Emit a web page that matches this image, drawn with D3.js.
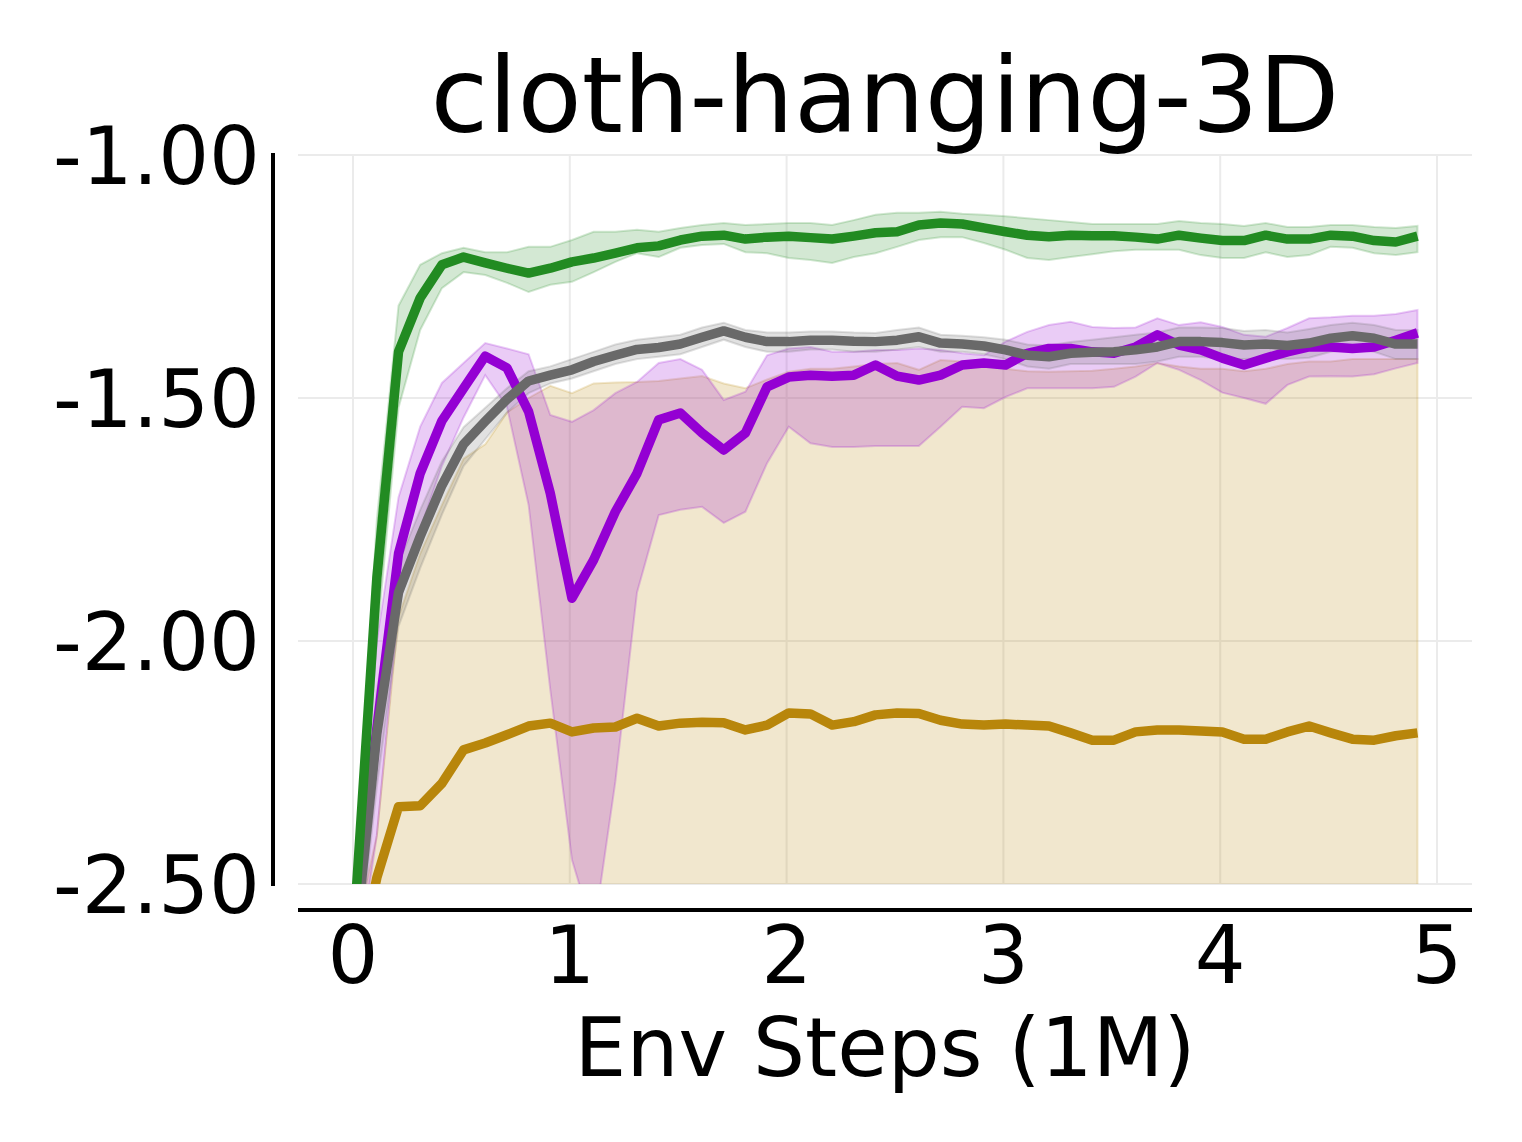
<!DOCTYPE html>
<html>
<head>
<meta charset="utf-8">
<script src="https://cdn.jsdelivr.net/npm/d3@7/dist/d3.min.js"></script>
<style>
  body { margin: 0; background: #fff; }
  svg text { font-family: "DejaVu Sans", sans-serif; fill: #000; }
</style>
</head>
<body>
<svg id="chart" width="1522" height="1142"></svg>
<script>
// env steps (millions)
var steps = [0.01, 0.11, 0.21, 0.31, 0.41, 0.51, 0.61, 0.71, 0.81, 0.91,
             1.01, 1.11, 1.21, 1.31, 1.41, 1.51, 1.61, 1.71, 1.81, 1.91,
             2.01, 2.11, 2.21, 2.31, 2.41, 2.51, 2.61, 2.71, 2.81, 2.91,
             3.01, 3.11, 3.21, 3.31, 3.41, 3.51, 3.61, 3.71, 3.81, 3.91,
             4.01, 4.11, 4.21, 4.31, 4.41, 4.51, 4.61, 4.71, 4.81, 4.91];

var greenMean = [-2.55, -1.87, -1.405, -1.294, -1.226, -1.210, -1.222, -1.233, -1.243, -1.233,
                 -1.220, -1.212, -1.202, -1.191, -1.187, -1.175, -1.167, -1.165, -1.173, -1.169,
                 -1.167, -1.170, -1.173, -1.167, -1.160, -1.158, -1.144, -1.140, -1.142, -1.150,
                 -1.158, -1.165, -1.168, -1.165, -1.166, -1.166, -1.169, -1.173, -1.165, -1.171,
                 -1.176, -1.176, -1.165, -1.173, -1.173, -1.165, -1.167, -1.176, -1.179, -1.167];
var greenHi = [-2.50, -1.75, -1.31, -1.226, -1.202, -1.191, -1.200, -1.200, -1.189, -1.189,
               -1.175, -1.158, -1.158, -1.154, -1.158, -1.150, -1.144, -1.140, -1.144, -1.142,
               -1.140, -1.140, -1.144, -1.134, -1.123, -1.119, -1.119, -1.117, -1.121, -1.123,
               -1.126, -1.130, -1.134, -1.138, -1.142, -1.142, -1.142, -1.142, -1.136, -1.140,
               -1.142, -1.146, -1.140, -1.148, -1.148, -1.144, -1.144, -1.148, -1.150, -1.146];
var greenLo = [-2.60, -2.00, -1.52, -1.360, -1.274, -1.241, -1.247, -1.263, -1.282, -1.267,
               -1.261, -1.241, -1.220, -1.202, -1.210, -1.191, -1.185, -1.183, -1.200, -1.202,
               -1.212, -1.216, -1.222, -1.210, -1.202, -1.189, -1.175, -1.169, -1.169, -1.181,
               -1.195, -1.212, -1.216, -1.210, -1.204, -1.198, -1.195, -1.195, -1.195, -1.206,
               -1.212, -1.212, -1.200, -1.210, -1.206, -1.189, -1.191, -1.202, -1.206, -1.200];

var grayMean = [-2.62, -2.19, -1.90, -1.785, -1.68, -1.595, -1.548, -1.503, -1.465, -1.453,
                -1.442, -1.425, -1.412, -1.400, -1.396, -1.389, -1.375, -1.362, -1.375, -1.384,
                -1.384, -1.381, -1.381, -1.383, -1.384, -1.381, -1.374, -1.387, -1.389, -1.393,
                -1.401, -1.412, -1.415, -1.408, -1.406, -1.405, -1.401, -1.395, -1.384, -1.384,
                -1.386, -1.391, -1.389, -1.392, -1.387, -1.377, -1.372, -1.377, -1.389, -1.389];
var grayHi = [-2.55, -2.10, -1.84, -1.73, -1.63, -1.56, -1.52, -1.48, -1.445, -1.435,
              -1.42, -1.405, -1.39, -1.38, -1.375, -1.37, -1.355, -1.345, -1.36, -1.365,
              -1.365, -1.363, -1.363, -1.365, -1.366, -1.36, -1.355, -1.37, -1.372, -1.375,
              -1.38, -1.39, -1.392, -1.385, -1.38, -1.375, -1.37, -1.365, -1.355, -1.355,
              -1.356, -1.362, -1.36, -1.365, -1.358, -1.35, -1.345, -1.35, -1.36, -1.36];
var grayLo = [-2.70, -2.30, -1.97, -1.85, -1.74, -1.64, -1.585, -1.53, -1.49, -1.47,
              -1.46, -1.445, -1.43, -1.42, -1.415, -1.41, -1.395, -1.38, -1.395, -1.405,
              -1.405, -1.40, -1.40, -1.405, -1.405, -1.40, -1.395, -1.405, -1.405, -1.41,
              -1.42, -1.435, -1.44, -1.43, -1.43, -1.43, -1.43, -1.425, -1.415, -1.415,
              -1.42, -1.42, -1.418, -1.42, -1.417, -1.405, -1.40, -1.405, -1.42, -1.42];

var purpleMean = [-2.60, -2.18, -1.82, -1.655, -1.547, -1.48, -1.414, -1.438, -1.528, -1.696,
                  -1.912, -1.833, -1.734, -1.655, -1.545, -1.531, -1.572, -1.607, -1.572, -1.477,
                  -1.457, -1.453, -1.455, -1.453, -1.432, -1.455, -1.463, -1.453, -1.432, -1.428,
                  -1.432, -1.408, -1.398, -1.398, -1.405, -1.408, -1.395, -1.370, -1.391, -1.401,
                  -1.418, -1.432, -1.418, -1.405, -1.395, -1.395, -1.398, -1.395, -1.381, -1.366];
var purpleHi = [-2.50, -2.00, -1.704, -1.559, -1.469, -1.428, -1.387, -1.398, -1.410, -1.535,
                -1.549, -1.525, -1.490, -1.467, -1.428, -1.420, -1.442, -1.504, -1.487, -1.412,
                -1.398, -1.395, -1.405, -1.405, -1.401, -1.401, -1.398, -1.401, -1.408, -1.412,
                -1.384, -1.364, -1.350, -1.343, -1.354, -1.356, -1.355, -1.336, -1.350, -1.344,
                -1.354, -1.370, -1.374, -1.356, -1.336, -1.334, -1.331, -1.331, -1.327, -1.319];
var purpleLo = [-2.70, -2.40, -1.93, -1.77, -1.64, -1.54, -1.453, -1.518, -1.72, -2.10,
                -2.45, -2.60, -2.29, -1.90, -1.741, -1.730, -1.724, -1.757, -1.734, -1.634,
                -1.559, -1.593, -1.601, -1.601, -1.599, -1.599, -1.599, -1.559, -1.518, -1.521,
                -1.498, -1.480, -1.480, -1.480, -1.480, -1.477, -1.456, -1.428, -1.442, -1.463,
                -1.489, -1.500, -1.512, -1.473, -1.456, -1.455, -1.456, -1.451, -1.439, -1.428];

var goldMean = [-2.70, -2.487, -2.341, -2.339, -2.293, -2.224, -2.210, -2.193, -2.175, -2.169,
                -2.187, -2.179, -2.177, -2.159, -2.175, -2.169, -2.167, -2.168, -2.183, -2.173,
                -2.148, -2.150, -2.173, -2.166, -2.152, -2.148, -2.149, -2.163, -2.171, -2.173,
                -2.171, -2.173, -2.175, -2.189, -2.204, -2.204, -2.187, -2.183, -2.183, -2.185,
                -2.187, -2.202, -2.202, -2.187, -2.175, -2.189, -2.202, -2.204, -2.195, -2.189];
var goldHi = [-2.60, -2.40, -1.95, -1.82, -1.72, -1.625, -1.595, -1.53, -1.50, -1.475,
              -1.49, -1.47, -1.468, -1.467, -1.465, -1.46, -1.455, -1.47, -1.48, -1.462,
              -1.446, -1.44, -1.44, -1.435, -1.43, -1.428, -1.442, -1.422, -1.425, -1.43,
              -1.44, -1.445, -1.446, -1.445, -1.444, -1.44, -1.435, -1.428, -1.435, -1.44,
              -1.44, -1.445, -1.44, -1.43, -1.425, -1.425, -1.42, -1.42, -1.42, -1.42];
var goldLo = [-2.95, -2.92, -2.90, -2.91, -2.93, -2.90, -2.88, -2.90, -2.92, -2.91,
              -2.93, -2.90, -2.89, -2.91, -2.92, -2.90, -2.91, -2.93, -2.92, -2.90,
              -2.89, -2.90, -2.92, -2.91, -2.90, -2.89, -2.91, -2.92, -2.90, -2.91,
              -2.93, -2.92, -2.90, -2.91, -2.92, -2.94, -2.91, -2.90, -2.91, -2.92,
              -2.92, -2.93, -2.92, -2.91, -2.90, -2.91, -2.92, -2.93, -2.92, -2.91];

var xTicks = [0, 1, 2, 3, 4, 5];
var yTicks = [-1.0, -1.5, -2.0, -2.5];

var series = [
  {color: "#B8860B", mean: goldMean, lo: goldLo, hi: goldHi},
  {color: "#9400D3", mean: purpleMean, lo: purpleLo, hi: purpleHi},
  {color: "#696969", mean: grayMean, lo: grayLo, hi: grayHi},
  {color: "#228B22", mean: greenMean, lo: greenLo, hi: greenHi}
];

var box = {left: 298, right: 1472, top: 155, bottom: 884};

var x = d3.scaleLinear().domain([0, 5]).range([353, 1437]);
var y = d3.scaleLinear().domain([-2.5, -1.0]).range([box.bottom, box.top]);

var svg = d3.select("#chart");

svg.append("defs").append("clipPath").attr("id", "plotclip")
  .append("rect")
  .attr("x", box.left).attr("y", box.top)
  .attr("width", box.right - box.left).attr("height", box.bottom - box.top);

// grid
var grid = svg.append("g");
grid.selectAll(".hg").data(yTicks).enter().append("line")
  .attr("x1", box.left).attr("x2", box.right)
  .attr("y1", function(d) { return y(d); }).attr("y2", function(d) { return y(d); })
  .attr("stroke", "#ebebeb").attr("stroke-width", 2);
grid.selectAll(".vg").data(xTicks).enter().append("line")
  .attr("x1", function(d) { return x(d); }).attr("x2", function(d) { return x(d); })
  .attr("y1", box.top).attr("y2", box.bottom)
  .attr("stroke", "#ebebeb").attr("stroke-width", 2);

var plot = svg.append("g").attr("clip-path", "url(#plotclip)");

var band = d3.area()
  .x(function(d) { return x(d.s); })
  .y0(function(d) { return y(d.lo); })
  .y1(function(d) { return y(d.hi); });

var line = d3.line()
  .x(function(d) { return x(d.s); })
  .y(function(d) { return y(d.m); });

function rows(sr) {
  return steps.map(function(s, i) {
    return {s: s, m: sr.mean[i], lo: sr.lo[i], hi: sr.hi[i]};
  });
}

series.forEach(function(sr) {
  plot.append("path")
    .datum(rows(sr))
    .attr("d", band)
    .attr("fill", sr.color).attr("fill-opacity", 0.2)
    .attr("stroke", sr.color).attr("stroke-opacity", 0.2).attr("stroke-width", 2);
});

series.forEach(function(sr) {
  plot.append("path")
    .datum(rows(sr))
    .attr("d", line)
    .attr("fill", "none")
    .attr("stroke", sr.color).attr("stroke-width", 9.5)
    .attr("stroke-linejoin", "round");
});

// spines, offset outward
svg.append("line")
  .attr("x1", 273).attr("x2", 273)
  .attr("y1", y(-1.0) - 2).attr("y2", y(-2.5) + 2)
  .attr("stroke", "#000").attr("stroke-width", 4);
svg.append("line")
  .attr("x1", box.left).attr("x2", box.right)
  .attr("y1", 910).attr("y2", 910)
  .attr("stroke", "#000").attr("stroke-width", 4);

var fmt = d3.format(".2f");

svg.selectAll(".yt").data(yTicks).enter().append("text")
  .attr("x", 260)
  .attr("y", function(d) { return y(d) + 29; })
  .attr("text-anchor", "end")
  .attr("font-size", 80)
  .text(function(d) { return fmt(d).replace("\u2212", "-"); });

svg.selectAll(".xt").data(xTicks).enter().append("text")
  .attr("x", function(d) { return x(d); })
  .attr("y", 983)
  .attr("text-anchor", "middle")
  .attr("font-size", 80)
  .text(function(d) { return d; });

svg.append("text")
  .attr("x", (box.left + box.right) / 2).attr("y", 1076)
  .attr("text-anchor", "middle")
  .attr("font-size", 82)
  .text("Env Steps (1M)");

svg.append("text")
  .attr("x", (box.left + box.right) / 2).attr("y", 132)
  .attr("text-anchor", "middle")
  .attr("font-size", 105)
  .text("cloth-hanging-3D");
</script>
</body>
</html>
